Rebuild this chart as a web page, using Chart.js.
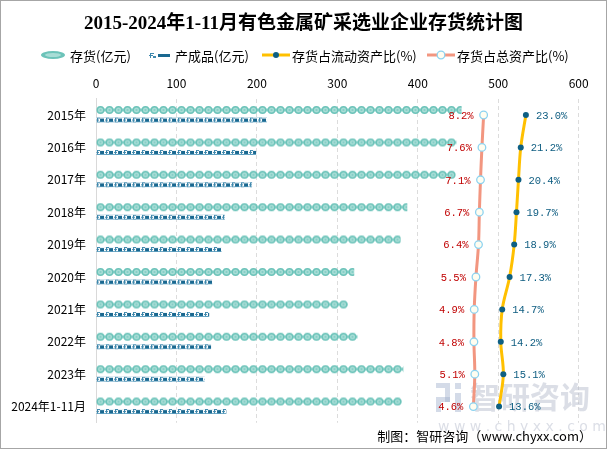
<!DOCTYPE html>
<html>
<head>
<meta charset="utf-8">
<script src="https://cdn.jsdelivr.net/npm/chart.js@4/dist/chart.umd.min.js"></script>
<style>
html,body{margin:0;padding:0;background:#fff;}
canvas{display:block;}
</style>
</head>
<body>
<canvas id="c" width="607" height="449"></canvas>
<script>
// ---- data ----
const categories = ['2015年','2016年','2017年','2018年','2019年','2020年','2021年','2022年','2023年','2024年1-11月'];
const stock = [454.5, 448, 447, 387, 378.6, 321, 313, 325, 382, 380];          // 存货(亿元)
const finished = [212.6, 199, 194, 160, 156, 144.5, 140.7, 143, 135, 162];    // 产成品(亿元)
const currentRatio = [23.0, 21.2, 20.4, 19.7, 18.9, 17.3, 14.7, 14.2, 15.1, 13.6]; // 存货占流动资产比(%)
const totalRatio = [8.2, 7.6, 7.1, 6.7, 6.4, 5.5, 4.9, 4.8, 5.1, 4.6];        // 存货占总资产比(%)
const xTicks = [0, 100, 200, 300, 400, 500, 600];
const seriesNames = ['存货(亿元)', '产成品(亿元)', '存货占流动资产比(%)', '存货占总资产比(%)'];
const titleText = '2015-2024年1-11月有色金属矿采选业企业存货统计图';

// ---- style ----
const CAT_PCT = 0.62;
const STOCK_T = 8, FIN_T = 5;
const FONT = '"Noto Sans CJK SC","Noto Sans",sans-serif';
const LEGEND_ICON_X = [53, 159, 276, 441];
const LEGEND_TEXT_X = [70, 175, 292, 457];
const LEGEND_Y = 55;

function tile(w, h, draw){ const c=document.createElement('canvas'); c.width=w; c.height=h; draw(c.getContext('2d')); return c; }
const stockTile = tile(9, 8, g => {
  g.fillStyle='#86cfc7'; g.fillRect(0,2.5,9,3);
  g.beginPath(); g.arc(4.5,4,3.95,0,Math.PI*2); g.fillStyle='#6cc3b9'; g.fill();
  g.beginPath(); g.arc(4.5,4,2.5,0,Math.PI*2); g.fillStyle='#a8ddd6'; g.fill();
  g.beginPath(); g.arc(4.5,4,1.1,0,Math.PI*2); g.fillStyle='#84cdc5'; g.fill();
});
const finTile = tile(9, 5, g => {
  g.fillStyle='#ffffff'; g.fillRect(0,0,9,5);
  g.fillStyle='#3f88ad'; g.fillRect(1,0,1,4); g.fillRect(2,0,2,1); g.fillRect(0,2,3,1);
  g.fillStyle='#1a6890'; g.fillRect(4,1,4,3);
  g.fillStyle='#5e9fc0'; g.fillRect(0,4,9,1);
});
function pat(ctx, t, x, y){ const p=ctx.createPattern(t,'repeat'); if(p.setTransform) p.setTransform(new DOMMatrix([1,0,0,1,x,y])); return p; }
function barFill(t, thick, sign, fallback){
  return function(c){
    const ch=c.chart, ys=ch.scales.y, xs=ch.scales.x;
    if(!ys || !xs || c.type!=='data') return fallback;
    const band=(ys.bottom-ys.top)/categories.length;
    const chunk=band*CAT_PCT/2;
    const center=ys.getPixelForValue(c.dataIndex)+sign*chunk/2;
    return pat(ch.ctx, t, xs.getPixelForValue(0), center-thick/2);
  };
}

// legend icons
function drawIcon(g, i, cx, cy){
  g.save();
  if(i===0){
    g.beginPath(); g.ellipse(cx,cy,12,4,0,0,Math.PI*2); g.fillStyle='#6cc3b9'; g.fill();
    g.beginPath(); g.ellipse(cx,cy,8,2,0,0,Math.PI*2); g.fillStyle='#a8ddd6'; g.fill();
  } else if(i===1){
    g.fillStyle='#3f88ad'; g.fillRect(cx-9,cy-2,1,5); g.fillRect(cx-8,cy-2,3,1); g.fillRect(cx-10,cy,4,1);
    g.fillRect(cx-6,cy+1,3,2);
    g.fillStyle='#1a6890'; g.fillRect(cx-1,cy-1,12,3);
  } else if(i===2){
    g.strokeStyle='#ffc000'; g.lineWidth=3; g.beginPath(); g.moveTo(cx-14,cy); g.lineTo(cx+14,cy); g.stroke();
    g.beginPath(); g.arc(cx,cy,3,0,Math.PI*2); g.fillStyle='#0e5f83'; g.fill();
  } else {
    g.strokeStyle='#f29680'; g.lineWidth=3; g.beginPath(); g.moveTo(cx-14,cy); g.lineTo(cx+14,cy); g.stroke();
    g.beginPath(); g.arc(cx,cy,3.8,0,Math.PI*2); g.fillStyle='#fffdf0'; g.fill(); g.strokeStyle='#8dd3f0'; g.lineWidth=1.3; g.stroke();
  }
  g.restore();
}

const decor = {
  id:'decor',
  beforeDraw(chart){
    const ctx=chart.ctx; ctx.save(); ctx.fillStyle='#fff'; ctx.fillRect(0,0,chart.width,chart.height); ctx.restore();
  },
  beforeDatasetsDraw(chart){
    const ctx=chart.ctx; ctx.save();
    ctx.fillStyle='rgba(175,182,200,0.45)';
    ctx.font='bold 30px '+FONT; ctx.textBaseline='middle'; ctx.textAlign='left';
    ctx.fillText('智研咨询', 470, 397);
    ctx.font='14px "DejaVu Sans",sans-serif';
    ctx.fillText('w w w . c h y x x . c o m', 438, 427);
    ctx.fillStyle='rgba(160,175,205,0.45)';
    ctx.fillRect(436,383,14,5); ctx.fillRect(445,388,5,14); ctx.fillRect(436,397,14,5); ctx.fillRect(436,402,5,10);
    ctx.fillRect(455,383,6,6); ctx.fillRect(455,393,6,19);
    ctx.restore();
  },
  afterDatasetsDraw(chart){
    const ctx=chart.ctx; ctx.save();
    ctx.font='10.5px "Liberation Mono","DejaVu Sans Mono",monospace'; ctx.textBaseline='middle';
    const mt=chart.getDatasetMeta(3), mc=chart.getDatasetMeta(2);
    ctx.fillStyle='#c00000'; ctx.textAlign='right';
    mt.data.forEach((p,i)=>ctx.fillText(totalRatio[i].toFixed(1)+'%', p.x-10, p.y+1));
    ctx.fillStyle='#0d5c80'; ctx.textAlign='left';
    mc.data.forEach((p,i)=>ctx.fillText(currentRatio[i].toFixed(1)+'%', p.x+10, p.y+1));
    ctx.restore();
  },
  afterDraw(chart){
    const ctx=chart.ctx; ctx.save();
    // title
    ctx.font='bold 19px "Liberation Serif","Noto Sans CJK SC",serif'; ctx.fillStyle='#000';
    ctx.textAlign='center'; ctx.textBaseline='middle';
    ctx.fillText(titleText, 303.5, 24);
    // legend
    ctx.font='13px '+FONT; ctx.textBaseline='middle'; ctx.textAlign='left';
    seriesNames.forEach((t,i)=>{ drawIcon(ctx, i, LEGEND_ICON_X[i], LEGEND_Y); ctx.fillText(t, LEGEND_TEXT_X[i], LEGEND_Y+1); });
    // footer
    ctx.font='13px '+FONT; ctx.textAlign='right';
    ctx.fillText('制图：智研咨询（www.chyxx.com）', 592, 436);
    ctx.strokeStyle='#a6a6a6'; ctx.lineWidth=1; ctx.strokeRect(0.5,0.5,chart.width-1,chart.height-1);
    ctx.restore();
  }
};

new Chart(document.getElementById('c'), {
  type:'bar',
  data:{
    labels: categories,
    datasets:[
      {label:seriesNames[0], data:stock, xAxisID:'x', yAxisID:'y', order:2,
       backgroundColor: barFill(stockTile, STOCK_T, -1, '#6cc3b9'), borderWidth:0,
       categoryPercentage:CAT_PCT, barPercentage:1, maxBarThickness:STOCK_T},
      {label:seriesNames[1], data:finished, xAxisID:'x', yAxisID:'y', order:2,
       backgroundColor: barFill(finTile, FIN_T, 1, '#1a6890'), borderWidth:0,
       categoryPercentage:CAT_PCT, barPercentage:1, maxBarThickness:FIN_T},
      {type:'line', label:seriesNames[2], data:currentRatio, xAxisID:'x2', yAxisID:'y', order:1,
       borderColor:'#ffc000', borderWidth:3, tension:0.35, fill:false,
       pointRadius:3, pointBackgroundColor:'#0e5f83', pointBorderWidth:0},
      {type:'line', label:seriesNames[3], data:totalRatio, xAxisID:'x2', yAxisID:'y', order:0,
       borderColor:'#f29680', borderWidth:3, tension:0.35, fill:false,
       pointRadius:3.8, pointBackgroundColor:'#fffdf0', pointBorderColor:'#8dd3f0', pointBorderWidth:1.3}
    ]
  },
  options:{
    indexAxis:'y',
    responsive:false, animation:false, events:[],
    layout:{padding:{left:0, right:28.3, top:71.4, bottom:26.2}},
    plugins:{
      tooltip:{enabled:false},
      legend:{display:false},
      title:{display:false}
    },
    scales:{
      x:{position:'top', min:0, max:600,
        afterBuildTicks(s){ s.ticks = xTicks.map(v=>({value:v})); },
        afterFit(s){ s.height=27.4; },
        grid:{color:'#dcdcdc', drawTicks:false, lineWidth:1},
        border:{display:false, dash:[4,3]},
        ticks:{color:'#000', font:{family:FONT, size:12}, padding:8}},
      x2:{display:false, min:-127.6, max:41.5},
      y:{position:'left', offset:true,
        afterFit(s){ s.width=96; },
        grid:{display:false, drawTicks:false},
        border:{display:true, color:'#d9d9d9', width:1},
        ticks:{color:'#000', font:{family:FONT, size:12}, padding:10}}
    }
  },
  plugins:[decor]
});
</script>
</body>
</html>
